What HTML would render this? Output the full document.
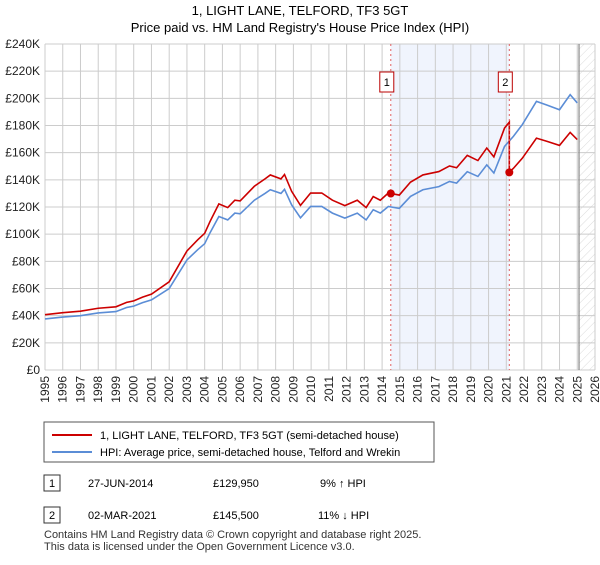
<!DOCTYPE html>
<html><head><meta charset="utf-8"><style>
body{margin:0;background:#fff;font-family:"Liberation Sans",sans-serif;}
svg text{font-family:"Liberation Sans",sans-serif;}
</style></head><body>
<svg id="c" width="600" height="560" xmlns="http://www.w3.org/2000/svg">
<defs><pattern id="hatch" width="6" height="6" patternUnits="userSpaceOnUse" patternTransform="rotate(45)"><line x1="0" y1="0" x2="0" y2="6" stroke="#ccc" stroke-width="0.7"/></pattern></defs>
<text x="300" y="15" text-anchor="middle" font-size="13">1, LIGHT LANE, TELFORD, TF3 5GT</text>
<text x="300" y="32" text-anchor="middle" font-size="13">Price paid vs. HM Land Registry's House Price Index (HPI)</text>
<g id="plot"></g>
<rect x="44" y="422" width="390" height="40" fill="#fff" stroke="#555"/>
<line x1="52" y1="435" x2="92" y2="435" stroke="#cc0000" stroke-width="2"/>
<text x="100" y="439" font-size="11">1, LIGHT LANE, TELFORD, TF3 5GT (semi-detached house)</text>
<line x1="52" y1="452" x2="92" y2="452" stroke="#5b8dd6" stroke-width="2"/>
<text x="100" y="456" font-size="11">HPI: Average price, semi-detached house, Telford and Wrekin</text>
<g>
<rect x="44" y="475" width="16" height="16" fill="#fff" stroke="#333"/><text x="52" y="487" text-anchor="middle" font-size="11">1</text>
<text x="88" y="487" font-size="11">27-JUN-2014</text><text x="213" y="487" font-size="11">£129,950</text><text x="320" y="487" font-size="11">9% ↑ HPI</text></g>
<g>
<rect x="44" y="507" width="16" height="16" fill="#fff" stroke="#333"/><text x="52" y="519" text-anchor="middle" font-size="11">2</text>
<text x="88" y="519" font-size="11">02-MAR-2021</text><text x="213" y="519" font-size="11">£145,500</text><text x="318" y="519" font-size="11">11% ↓ HPI</text></g>
<text x="44" y="538" font-size="11" fill="#333">Contains HM Land Registry data © Crown copyright and database right 2025.</text>
<text x="44" y="550" font-size="11" fill="#333">This data is licensed under the Open Government Licence v3.0.</text>
</svg>
<script>
const hpiYears=[1995,1996,1997,1998,1999,1999.6,2000,2000.5,2001,2002,2003,2003.6,2004,2004.3,2004.8,2005.3,2005.7,2006,2006.8,2007.4,2007.7,2008.3,2008.5,2008.9,2009.4,2009.97,2010.6,2011.2,2011.9,2012.6,2013.1,2013.5,2013.9,2014.35,2014.97,2015.6,2016.3,2017.2,2017.8,2018.2,2018.8,2019.4,2019.9,2020.3,2020.9,2021.4,2021.9,2022.7,2023.3,2024.0,2024.6,2025.0];
const hpiValues=[37.6,39,40,42,43,46,47,49.6,51.6,60,81,88.5,93,101,113,110.5,115.5,115,125,130,132.7,130,133,121.6,112,120.4,120.4,115.5,111.8,115.5,110.5,118,115.5,120.4,119,127.8,132.7,135,138.8,137.6,146,142.5,151,145,164.6,172,180.6,197.8,195,191.6,202.7,196.6];
const saleDates=[2014.49,2021.17];
const salePrices=[129.95,145.5];
const saleLabels=["1","2"];
const yTicks=[0,20,40,60,80,100,120,140,160,180,200,220,240];
const yTickLabels=["£0","£20K","£40K","£60K","£80K","£100K","£120K","£140K","£160K","£180K","£200K","£220K","£240K"];
const xTicks=[1995,1996,1997,1998,1999,2000,2001,2002,2003,2004,2005,2006,2007,2008,2009,2010,2011,2012,2013,2014,2015,2016,2017,2018,2019,2020,2021,2022,2023,2024,2025,2026];
const dataEnd=2025.1;
const L=45,R=595,T=44,B=370;
const X=y=>L+(y-1995)/31*(R-L);
const Y=v=>B-v/240*(B-T);
const NS="http://www.w3.org/2000/svg";
const g=document.getElementById('plot');
function mk(t,a,p){const e=document.createElementNS(NS,t);for(const k in a)e.setAttribute(k,a[k]);(p||g).appendChild(e);return e;}
function hpiAt(t){for(let i=0;i<hpiYears.length-1;i++){if(t<=hpiYears[i+1]){const f=(t-hpiYears[i])/(hpiYears[i+1]-hpiYears[i]);return hpiValues[i]+f*(hpiValues[i+1]-hpiValues[i]);}}return hpiValues[hpiValues.length-1];}
const band=mk('rect',{x:X(saleDates[0]),y:T,width:X(saleDates[1])-X(saleDates[0]),height:B-T,fill:'#f0f4fd'});


yTicks.forEach((v,i)=>{
 const l=mk('line',{x1:L,x2:R,y1:Y(v),y2:Y(v),stroke:'#cccccc'});
 
 
 const t=mk('text',{x:L-5,y:Y(v)+4,'text-anchor':'end','font-size':12,fill:'#222'});t.textContent=yTickLabels[i];
 
 
});
xTicks.forEach(yr=>{
 const l=mk('line',{x1:X(yr),x2:X(yr),y1:T,y2:B,stroke:'#cccccc'});
 
 
 const t=mk('text',{x:0,y:0,'text-anchor':'end','font-size':12,fill:'#222',transform:`translate(${X(yr)+4},${B+6}) rotate(-90)`});t.textContent=yr;
 
 
});
const h=mk('rect',{x:X(dataEnd),y:T,width:R-X(dataEnd),height:B-T,fill:'url(#hatch)'});


const dl=mk('line',{x1:X(dataEnd),x2:X(dataEnd),y1:T,y2:B,stroke:'#888','stroke-width':1.2});


const r1=salePrices[0]/hpiAt(saleDates[0]), r2=salePrices[1]/hpiAt(saleDates[1]);
let red=[];
hpiYears.forEach((t,i)=>{ if(t<saleDates[1]) red.push([t,hpiValues[i]*r1]); });
red.push([saleDates[1],hpiAt(saleDates[1])*r1]);
red.push([saleDates[1],salePrices[1]]);
hpiYears.forEach((t,i)=>{ if(t>saleDates[1]) red.push([t,hpiValues[i]*r2]); });
const bp=mk('polyline',{points:hpiYears.map((t,i)=>X(t)+','+Y(hpiValues[i])).join(' '),fill:'none',stroke:'#5b8dd6','stroke-width':1.6});


const rp=mk('polyline',{points:red.map(p=>X(p[0])+','+Y(p[1])).join(' '),fill:'none',stroke:'#cc0000','stroke-width':1.6});


saleDates.forEach((d,i)=>{
 const l=mk('line',{x1:X(d),x2:X(d),y1:T,y2:B,stroke:'#e06060','stroke-dasharray':'2,3'});
 
 
 const c=mk('circle',{cx:X(d),cy:Y(salePrices[i]),r:4,fill:'#cc0000'});
 
 
 const b=mk('rect',{x:X(d)-11,y:72,width:14,height:20,fill:'#fff',stroke:'#b00'});
 
 
 const t=mk('text',{x:X(d)-4,y:86,'text-anchor':'middle','font-size':11});t.textContent=saleLabels[i];
 
 
});
</script>
</body></html>
